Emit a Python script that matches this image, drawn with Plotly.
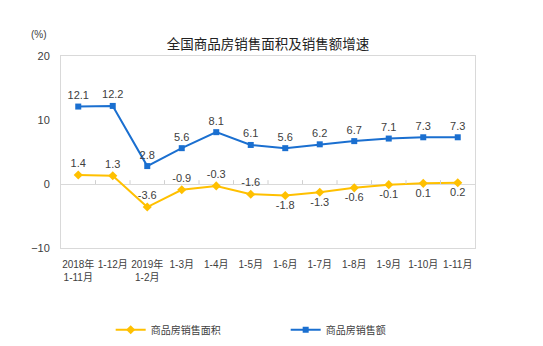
import plotly.graph_objects as go

categories = ["2018年<br>1-11月", "1-12月", "2019年<br>1-2月", "1-3月", "1-4月", "1-5月",
              "1-6月", "1-7月", "1-8月", "1-9月", "1-10月", "1-11月"]
area_growth = [1.4, 1.3, -3.6, -0.9, -0.3, -1.6, -1.8, -1.3, -0.6, -0.1, 0.1, 0.2]
sales_growth = [12.1, 12.2, 2.8, 5.6, 8.1, 6.1, 5.6, 6.2, 6.7, 7.1, 7.3, 7.3]
area_label_pos = ["top center"] * 6 + ["bottom center"] * 6
y_ticks = [-10, 0, 10, 20]

FONT = "Liberation Sans, Arial, Noto Sans CJK SC, sans-serif"
YELLOW = "#FFC000"
BLUE = "#1A6FD0"
TXT = "#404040"

idx = list(range(len(categories)))

fig = go.Figure()
fig.add_trace(go.Scatter(
    x=idx, y=area_growth, name="商品房销售面积", mode="lines+markers+text",
    line=dict(color=YELLOW, width=2), marker=dict(symbol="diamond", size=7, color=YELLOW),
    text=[f"{v:.1f}" for v in area_growth], textposition=area_label_pos,
    textfont=dict(size=11, color=TXT, family=FONT), cliponaxis=False,
))
fig.add_trace(go.Scatter(
    x=idx, y=sales_growth, name="商品房销售额", mode="lines+markers+text",
    line=dict(color=BLUE, width=2), marker=dict(symbol="square", size=6, color=BLUE),
    text=[f"{v:.1f}" for v in sales_growth], textposition="top center",
    textfont=dict(size=11, color=TXT, family=FONT), cliponaxis=False,
))

# small tick marks on the zero line at category boundaries
for i in range(len(categories) - 1):
    fig.add_shape(type="line", xref="x", yref="y", x0=i + 0.5, x1=i + 0.5, y0=0, y1=0.6,
                  line=dict(color="#d0d0d0", width=1))

fig.update_layout(
    width=543, height=346,
    margin=dict(l=61, r=68, t=56, b=98, autoexpand=False),
    paper_bgcolor="white", plot_bgcolor="white",
    font=dict(family=FONT, color=TXT),
    title=dict(text="全国商品房销售面积及销售额增速", x=268 / 543, xanchor="center",
               y=1 - 44 / 346, yanchor="middle",
               font=dict(size=13.5, color="#222222", family=FONT)),
    showlegend=True,
    legend=dict(orientation="h", x=0.12, xanchor="left", y=-0.35, yanchor="top",
                font=dict(size=10, color=TXT, family=FONT), entrywidth=130,
                bgcolor="rgba(0,0,0,0)"),
    annotations=[dict(text="(%)", xref="paper", yref="paper", x=-0.03, y=1.11,
                      xanchor="right", yanchor="middle", showarrow=False,
                      font=dict(size=10, color=TXT, family=FONT))],
)
fig.update_xaxes(
    range=[-0.5, len(categories) - 0.5], tickmode="array", tickvals=idx, ticktext=categories,
    showgrid=False, zeroline=False, showline=True, linecolor="#d9d9d9", linewidth=1, mirror=True,
    ticks="", tickfont=dict(size=10, color=TXT, family=FONT), ticklabelstandoff=7,
    automargin=False,
)
fig.update_yaxes(
    range=[-10, 20], tickvals=y_ticks, showgrid=False,
    zeroline=True, zerolinecolor="#d9d9d9", zerolinewidth=1,
    showline=True, linecolor="#d9d9d9", linewidth=1, mirror=True,
    ticks="", tickfont=dict(size=11, color=TXT, family=FONT), ticklabelstandoff=8,
    automargin=False,
)

fig.write_html("out.html")
